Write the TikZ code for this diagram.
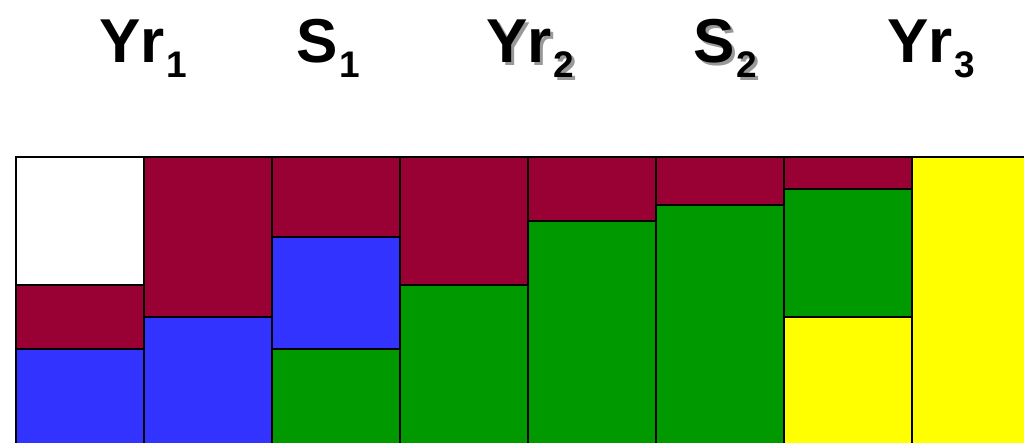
\documentclass[tikz,border=0pt]{standalone}
\usepackage{fontspec}
\setmainfont{Liberation Sans}
\definecolor{maroon}{HTML}{990033}
\definecolor{cblue}{HTML}{3333FF}
\definecolor{cgreen}{HTML}{009900}
\definecolor{cyellow}{HTML}{FFFF00}
\definecolor{shadowgray}{gray}{0.6}
\newcommand{\yrlab}[2]{{\fontsize{62}{62}\selectfont\bfseries #1}\kern2pt{\fontsize{37}{37}\selectfont\bfseries\raisebox{-15pt}{#2}}}
\newcommand{\shadowed}[1]{\makebox[0pt][l]{\hspace{3pt}\raisebox{-3pt}{\color{shadowgray}#1}}#1}
\begin{document}
\begin{tikzpicture}[x=1pt,y=-1pt,
  cell/.style={draw=black,line width=2pt},
  lab/.style={anchor=base west,inner sep=0pt,outer sep=0pt}]
\useasboundingbox (0,0) rectangle (1024,443);
\clip (0,0) rectangle (1024,443);
% labels
\node[lab] (yr1) at (99,63) {\yrlab{Yr}{1}};
\node[lab] (s1) at (296,63) {\yrlab{S}{1}};
\node[lab] (yr2) at (486,63) {\shadowed{\yrlab{Yr}{2}}};
\node[lab] (s2) at (693,63) {\shadowed{\yrlab{S}{2}}};
\node[lab] (yr3) at (887,63) {\yrlab{Yr}{3}};
% column 1
\path[cell,fill=white] (16,157) rectangle (144,285);
\path[cell,fill=maroon] (16,285) rectangle (144,349);
\path[cell,fill=cblue] (16,349) rectangle (144,460);
% column 2
\path[cell,fill=maroon] (144,157) rectangle (272,317);
\path[cell,fill=cblue] (144,317) rectangle (272,460);
% column 3
\path[cell,fill=maroon] (272,157) rectangle (400,237);
\path[cell,fill=cblue] (272,237) rectangle (400,349);
\path[cell,fill=cgreen] (272,349) rectangle (400,460);
% column 4
\path[cell,fill=maroon] (400,157) rectangle (528,285);
\path[cell,fill=cgreen] (400,285) rectangle (528,460);
% column 5
\path[cell,fill=maroon] (528,157) rectangle (656,221);
\path[cell,fill=cgreen] (528,221) rectangle (656,460);
% column 6
\path[cell,fill=maroon] (656,157) rectangle (784,205);
\path[cell,fill=cgreen] (656,205) rectangle (784,460);
% column 7
\path[cell,fill=maroon] (784,157) rectangle (912,189);
\path[cell,fill=cgreen] (784,189) rectangle (912,317);
\path[cell,fill=cyellow] (784,317) rectangle (912,460);
% column 8
\path[cell,fill=cyellow] (912,157) rectangle (1040,460);
\end{tikzpicture}
\end{document}
